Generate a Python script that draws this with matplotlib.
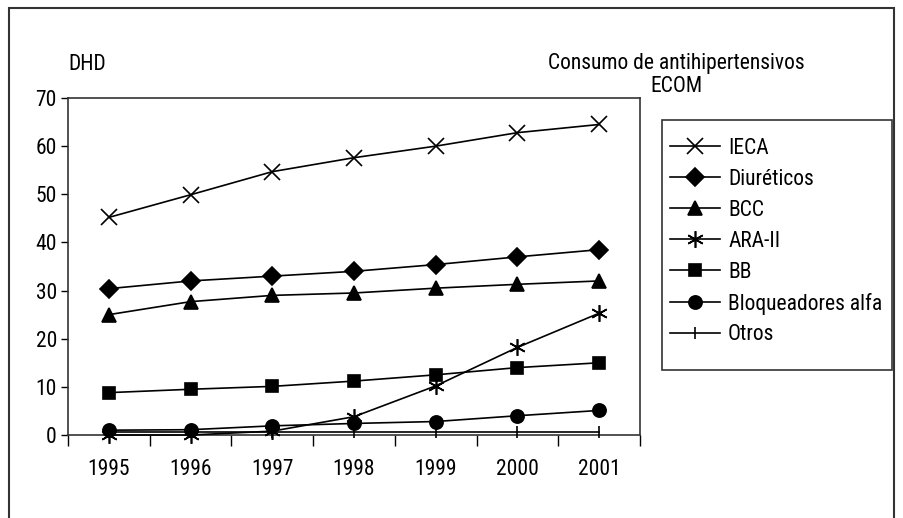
import matplotlib.pyplot as plt
from matplotlib import font_manager
from matplotlib.patches import Rectangle
from matplotlib.lines import Line2D

years = ['1995', '1996', '1997', '1998', '1999', '2000', '2001']
ieca = [45.2, 49.9, 54.7, 57.6, 60.0, 62.8, 64.5]
diureticos = [30.4, 32.0, 33.0, 34.0, 35.4, 37.0, 38.5]
bcc = [25.0, 27.7, 29.0, 29.5, 30.5, 31.3, 32.0]
ara2 = [0.0, 0.0, 0.8, 3.8, 10.2, 18.2, 25.3]
bb = [8.8, 9.5, 10.1, 11.2, 12.5, 14.0, 15.0]
alfa = [1.0, 1.1, 1.9, 2.4, 2.8, 4.0, 5.1]
otros = [0.7, 0.7, 0.7, 0.7, 0.7, 0.7, 0.7]

series = [
    ('IECA', ieca, 'x', 11),
    ('Diuréticos', diureticos, 'D', 9),
    ('BCC', bcc, '^', 10),
    ('ARA-II', ara2, (6, 2, 0), 12),
    ('BB', bb, 's', 9),
    ('Bloqueadores alfa', alfa, 'o', 9.5),
    ('Otros', otros, '|', 9),
]

# condensed font if there is one, else plain Liberation Sans a bit smaller
fs = 13
for fam in ['Liberation Sans Narrow', 'Roboto Condensed', 'Arial Narrow']:
    try:
        font_manager.findfont(fam, fallback_to_default=False)
        plt.rcParams['font.family'] = [fam, 'DejaVu Sans']
        fs = 15.5
        break
    except ValueError:
        pass
else:
    plt.rcParams['font.family'] = ['Liberation Sans', 'DejaVu Sans']

fig = plt.figure(figsize=(9.04, 5.18), dpi=100)
ax = fig.add_axes([68 / 904, 1 - 435 / 518, 572 / 904, 337 / 518])

xs = list(range(len(years)))
for name, vals, mk, ms in series:
    ax.plot(xs, vals, color='black', lw=1.2, marker=mk, markersize=ms,
            markeredgewidth=1.2, label=name, clip_on=False, zorder=3)

ax.set_xlim(-0.5, len(years) - 0.5)
ax.set_ylim(0, 70)
ax.set_yticks(range(0, 71, 10))
ax.set_xticks([i + 0.5 for i in range(-1, len(years))])
ax.set_xticklabels([])
ax.set_xticks(xs, minor=True)
ax.set_xticklabels(years, minor=True)
ax.tick_params(axis='x', which='major', direction='out', length=8, width=1)
ax.tick_params(axis='x', which='minor', length=0, pad=17, labelsize=fs)
ax.tick_params(axis='y', direction='out', length=5, width=1, labelsize=fs, pad=3)
for sp in ax.spines.values():
    sp.set_linewidth(1.2)
    sp.set_color('#333333')

fig.text(68 / 904, 1 - 64 / 518, 'DHD', fontsize=fs, ha='left', va='center')
fig.text(676 / 904, 1 - 75 / 518, 'Consumo de antihipertensivos\nECOM', fontsize=fs,
         ha='center', va='center', linespacing=1.1)

# legend box
fig.patches.append(Rectangle((662 / 904, 1 - 370 / 518), 230 / 904, 250 / 518,
                             transform=fig.transFigure, fill=False, lw=1.2,
                             edgecolor='#333333'))
handles = [Line2D([], [], color='black', lw=1.2, marker=mk, markersize=ms,
                  markeredgewidth=1.2) for _, _, mk, ms in series]
fig.legend(handles, [s[0] for s in series], loc='upper left',
           bbox_to_anchor=(670 / 904, 1 - 138 / 518), frameon=False, fontsize=fs,
           handlelength=2.3, handletextpad=0.4, labelspacing=0.46, borderaxespad=0,
           borderpad=0)

# outer frame
fig.patches.append(Rectangle((9 / 904, -0.05), 885 / 904, 1.05 - 8 / 518,
                             transform=fig.transFigure, fill=False, lw=1.5,
                             edgecolor='#333333'))

fig.savefig('out.png', dpi=100)
